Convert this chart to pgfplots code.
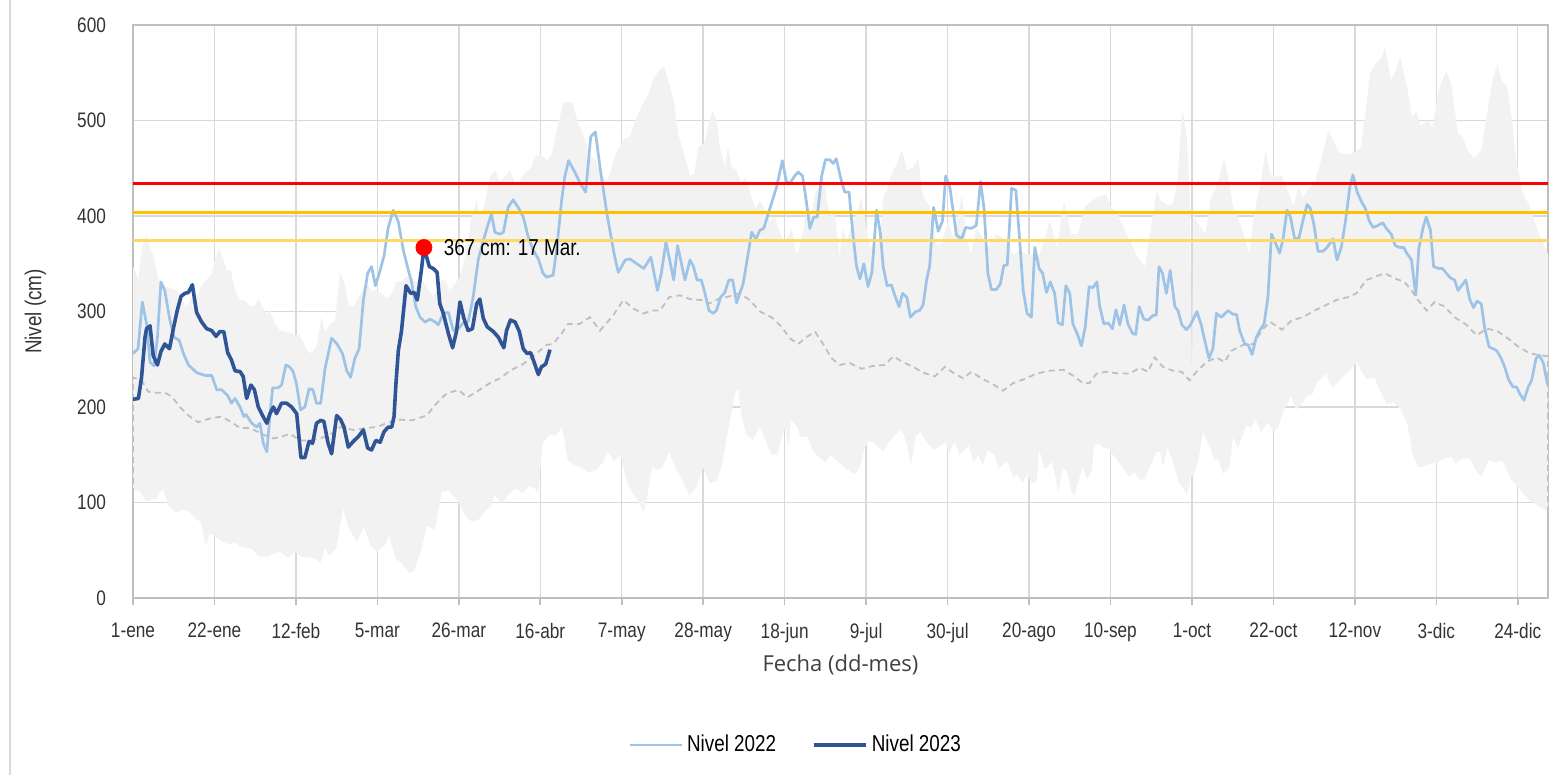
\documentclass[border=0pt]{standalone}
\usepackage{fontspec}
\setmainfont[FakeStretch=0.82]{Liberation Sans}
\newfontfamily\xlabfont{Open Sans}
\usepackage{pgfplots}
\usepgfplotslibrary{fillbetween}
\pgfplotsset{compat=1.18}
\definecolor{cA}{HTML}{9DC3E6}
\definecolor{cB}{HTML}{2F5597}
\definecolor{band}{HTML}{F2F2F2}
\definecolor{meanc}{HTML}{BFBFBF}
\definecolor{gold}{HTML}{FFC000}
\definecolor{lgold}{HTML}{FFD966}
\definecolor{gridc}{HTML}{D9D9D9}
\definecolor{framec}{HTML}{BFBFBF}
\begin{document}
\begin{tikzpicture}
\begin{axis}[
  at={(0,0)}, anchor=south west,
  scale only axis, width=707.5pt, height=286.5pt,
  xmin=0, xmax=364.8, ymin=0, ymax=600,
  xtick={0,21,...,357},
  xticklabels={1-ene,22-ene,12-feb,5-mar,26-mar,16-abr,7-may,28-may,18-jun,9-jul,30-jul,20-ago,10-sep,1-oct,22-oct,12-nov,3-dic,24-dic},
  ytick={0,100,...,600},
  grid=major, major grid style={gridc, line width=0.7pt},
  axis line style={framec, line width=0.8pt},
  tick align=outside, xtick pos=bottom, ytick pos=left,
  xtick style={framec, line width=0.8pt}, ytick style={draw=none},
  major tick length=3.5pt,
  /pgf/number format/assume math mode=true,
  tick label style={font=\fontsize{10.5}{12}\selectfont, text=black!80},
  xticklabel style={yshift=-5.5pt},
  yticklabel style={xshift=-6.5pt},
  xlabel={\xlabfont Fecha (dd-mes)},
  xlabel style={font=\fontsize{11}{13}\selectfont, text=black!75, at={(axis description cs:0.5,-0.117)}, anchor=center},
  ylabel={Nivel (cm)},
  ylabel style={font=\fontsize{11.5}{13}\selectfont, text=black!80, at={(axis description cs:-0.069,0.5)}, anchor=center},
  legend style={at={(axis description cs:0.469,-0.2565)}, anchor=center, draw=none, fill=none,
    legend columns=2, font=\fontsize{11.5}{13}\selectfont,
    /tikz/every even column/.append style={column sep=16pt}},
  legend image code/.code={\draw[#1] (0pt,0pt) -- (26pt,0pt);},
]
% band upper (max)
\addplot[name path=up, draw=none, forget plot] coordinates {
(0,347)(1.4,334)(2.2,364)(3.4,381)(4.4,367)(5.4,357)(6.5,334)(7.8,327)(9.1,325)(11.3,322)(12.6,312)(13.8,305)(15.1,315)(16.5,315)(17.7,327)(20.3,340)(21.1,354)(22.2,366)(23.3,355)(24.1,343)(25.2,343)(26.3,322)(27.6,312)(28.9,312)(30.2,305)(31.5,307)(32.5,313)(33.3,305)(34.5,298)(35.3,301)(36.6,287)(37.9,280)(39.2,279)(40.5,278)(41.8,275)(42.8,276)(43.9,268)(44.9,259)(46,256)(47.3,263)(48.6,294)(49.5,279)(50.8,287)(52.1,291)(53.4,341)(54.6,329)(55.5,308)(56.8,305)(58.1,315)(59.4,322)(60.2,330)(61.5,322)(62.8,322)(64.1,319)(65.4,314)(66.6,318)(67.9,331)(69.2,331)(70.4,336)(71.8,336)(73,331)(74.4,333)(75.7,326)(77.4,315)(79.1,331)(80.4,334)(81.7,322)(83,329)(84.3,336)(85.6,357)(86.4,374)(87.3,399)(88.6,416)(89.4,399)(90.7,413)(92,441)(93.3,448)(94.6,436)(95.9,441)(97.2,448)(98.9,430)(100.6,443)(101.9,448)(102.7,451)(103.6,462)(105,465)(106.8,458)(108,465)(109.5,495)(111,519)(113.3,519)(114.5,500)(116.3,483)(117.4,465)(119.3,458)(121,441)(122.3,437)(124.6,466)(126.4,480)(128.1,483)(129.9,504)(131.2,516)(132.9,528)(134,542)(135.8,554)(137,556)(138.2,539)(139.4,521)(140.5,486)(141.8,469)(143.6,442)(144.7,444)(145.7,472)(147.4,477)(148.7,503)(149.6,510)(150.6,496)(151.3,472)(152.6,451)(153.4,473)(154.3,451)(155.6,448)(156.9,434)(157.9,441)(159.2,423)(160.5,408)(161.6,416)(162.9,406)(164.2,395)(165.5,399)(166.3,388)(167.7,373)(168.9,378)(169.8,388)(171,360)(172,369)(173.2,395)(174.2,409)(175,402)(175.8,423)(176.7,430)(177.9,441)(179.6,399)(180.9,404)(182.2,357)(183,388)(183.9,374)(185.1,388)(186.5,402)(187.8,420)(189.1,388)(190,367)(191.3,369)(192.6,374)(193.4,420)(194.4,427)(195.5,444)(197,455)(198.2,469)(199.7,448)(201.2,451)(202.4,460)(203.6,422)(205.4,410)(207.2,369)(208.4,371)(210.2,395)(211.3,378)(212.5,395)(213.7,423)(214.9,374)(216.1,360)(217.3,387)(218.5,381)(220.3,367)(222.7,381)(225.1,374)(226.9,360)(228.7,364)(230.5,360)(231.7,359)(233.4,357)(235.2,378)(236.4,395)(238.2,367)(240,416)(241.8,381)(243.6,381)(245.4,410)(247.2,416)(249,420)(250.8,423)(252,410)(253.8,402)(256.2,381)(258.6,360)(260.9,347)(262.7,395)(263.9,426)(265.1,416)(266.9,411)(268.1,413)(269.3,437)(270.5,512)(271.7,483)(272.5,414)(273,226)(273.4,405)(274.1,395)(275.3,388)(276.5,381)(277.7,416)(279.5,432)(281.3,461)(282.4,439)(283.6,410)(284.8,399)(286.6,378)(287.8,360)(289,402)(290.8,437)(292,469)(293.2,444)(294.4,441)(296.2,442)(297.4,430)(299.2,410)(300.4,430)(301.6,420)(302.8,427)(304.6,434)(306.3,458)(308.1,489)(309.3,480)(310.5,469)(311.7,465)(313.5,465)(315.3,467)(316.5,472)(317.7,507)(318.9,549)(320.1,558)(321.9,566)(322.8,577)(324.3,542)(325.5,552)(326.7,566)(328.5,535)(329.7,504)(330.9,509)(332,495)(333.8,500)(335,493)(336.8,535)(338.6,552)(339.8,539)(341.6,486)(342.8,483)(344,469)(345.8,460)(347.6,469)(348.8,500)(350.6,545)(351.8,559)(353,540)(354.2,537)(355.4,504)(356.6,458)(358.4,423)(360.1,410)(361.3,395)(362.5,381)(364.8,360)
};
% band lower (min)
\addplot[name path=lo, draw=none, forget plot] coordinates {
(0,113)(1.8,112)(3.3,101)(4.6,103)(6,104)(7.7,115)(9.2,96)(11,89)(12.8,93)(14.6,90)(16.3,82)(17.5,80)(18.7,55)(19.9,68)(22.2,61)(24.6,56)(26.4,58)(28.1,53)(30.5,52)(32.3,44)(34.7,43)(37.6,49)(40,42)(41.8,48)(43.5,43)(46.5,42)(48.3,37)(49.5,52)(50.6,44)(52.4,52)(54.2,94)(55.4,75)(57.7,59)(59.5,75)(61.3,54)(63.1,49)(64.9,55)(66,66)(67.8,40)(69,38)(71.3,26)(72.5,29)(74.3,50)(75.8,76)(77.8,71)(79.6,111)(81.4,113)(83.8,101)(85.5,87)(87.3,80)(89.1,82)(90.9,92)(92.4,96)(93.2,108)(95,99)(96.8,108)(98.6,115)(100.4,110)(102.1,117)(103.3,116)(104.5,110)(105.6,162)(107.4,171)(109,170)(110.6,179)(112.1,144)(113.9,139)(115.7,136)(117.5,131)(119.3,134)(121,141)(122.4,153)(124,143)(125.7,150)(127.2,123)(128.2,114)(129.9,103)(131.7,90)(132.3,99)(133.8,137)(135,134)(136.4,136)(138.2,153)(139.9,136)(141.7,123)(143.5,108)(145.3,116)(147,137)(148.8,120)(150.6,123)(151.8,139)(153.6,179)(155.3,216)(156,218)(156.9,190)(158,172)(159.8,165)(161.6,179)(163.4,162)(164.6,150)(166.2,150)(167,165)(168.2,179)(169,158)(169.6,186)(171.3,179)(172,169)(173.8,169)(175.5,153)(177.2,146)(178.6,142)(179.7,150)(181.5,144)(183.3,137)(185.1,132)(186.3,130)(187.4,137)(188.6,157)(189.8,165)(191.6,160)(193.4,153)(194.6,162)(196.4,171)(198.2,176)(199.4,162)(200.6,139)(201.8,169)(203,174)(204.8,162)(206.6,155)(208.4,160)(209.3,164)(210.5,151)(211.7,164)(213.1,150)(214.3,155)(215.5,160)(216.7,141)(217.9,150)(219.1,139)(220.3,155)(222.1,150)(223.3,136)(225.3,143)(226.9,127)(228.1,129)(229.3,120)(230.5,129)(231.7,120)(232.9,122)(233.7,155)(234.9,136)(235.8,137)(236.8,143)(237.6,132)(238.5,110)(239.7,136)(240.9,132)(241.8,112)(242.7,107)(243.6,120)(244.8,137)(246,124)(247.2,134)(247.8,160)(249,162)(250.2,157)(251.4,157)(252.6,150)(253.8,144)(255,137)(256.8,127)(258.3,132)(259.5,124)(260.7,124)(262.1,137)(263.9,153)(264.8,153)(265.5,137)(266.7,158)(268.1,143)(269.5,122)(270.5,117)(271.7,107)(272.7,126)(273.5,129)(274.7,146)(275.9,174)(277.1,162)(277.9,155)(278.9,144)(279.8,146)(281,130)(282.2,134)(282.7,137)(283.6,169)(284.8,157)(286,169)(287,181)(288.2,178)(289.4,187)(290.8,174)(292.6,184)(293.8,176)(295,177)(296.6,195)(298.6,212)(299.8,197)(301.3,203)(302.8,212)(304,213)(305.2,226)(306.4,230)(307.6,235)(308.4,225)(309.4,220)(311,228)(312.5,234)(314,240)(315.6,247)(316.8,236)(318.1,229)(320,231)(321.2,220)(323.1,203)(325,205)(326.7,198)(328.5,183)(330,148)(331.4,137)(332.6,137)(334.4,141)(336.2,142)(338,146)(339.8,148)(341,141)(342.8,146)(344.6,146)(346.4,132)(347.6,127)(349.4,144)(351.2,142)(353,144)(355.3,124)(357.7,113)(359.5,104)(361.9,97)(364.8,90)
};
\addplot[fill=band, draw=none, forget plot] fill between[of=up and lo];
% mean
\addplot[meanc, line width=0.9pt, dash pattern=on 3pt off 2.2pt, forget plot] coordinates {
(0,0)(0,231)(2.2,228)(3.9,216)(5.7,215)(8.2,215)(10,211)(12.1,200)(14.3,191)(16.8,184)(19.8,188)(22.9,190)(25.4,184)(27.6,178)(30.2,178)(33.6,171)(36.2,167)(38.3,169)(40.5,172)(43,165)(45.6,165)(48.2,167)(50.8,171)(53.4,179)(56.8,176)(60.2,178)(62.8,179)(65.4,183)(68,187)(71.8,186)(75.7,191)(78.3,204)(80.8,214)(83.9,218)(86.2,210)(88.6,216)(92,225)(94.6,230)(97.2,238)(100.6,245)(104,256)(106.6,265)(108.3,266)(110.5,277)(112.2,287)(115.2,287)(117.8,294)(120.4,280)(123.8,296)(126.4,312)(129,303)(131.5,298)(134.1,301)(135.9,301)(138.2,315)(141,317)(143.6,313)(146.6,312)(148.3,308)(150.9,313)(153.9,316)(156.4,319)(159,312)(161.6,300)(164.6,294)(167.2,284)(169.3,272)(171.5,266)(173.6,273)(175.8,279)(177.9,266)(180.1,251)(182.2,244)(184.8,246)(187.8,240)(190.8,243)(193.8,244)(196,253)(198.5,247)(201.1,242)(203.7,236)(206.7,232)(209.3,242)(211.4,236)(214,230)(216.2,237)(218.7,230)(221.7,224)(224.3,217)(226.9,225)(230.3,230)(232.9,235)(236.3,238)(239.8,239)(242.3,233)(244.9,225)(246.6,225)(248.4,235)(251,237)(254,235)(257,235)(259.5,241)(261.7,237)(263.4,252)(265.5,242)(268.1,238)(270.3,237)(272.4,228)(274.2,237)(276.7,247)(279.3,252)(281.4,247)(283.2,259)(286.2,265)(288.8,266)(291.4,282)(293.2,289)(296.2,281)(298.8,291)(301.6,294)(304.6,301)(307.7,307)(310.2,312)(313.2,315)(315.4,319)(318,333)(320.6,337)(322.7,340)(325.7,334)(327.8,331)(329.6,322)(331.3,312)(333.5,301)(335.6,310)(338.2,305)(340.7,294)(343.8,286)(346.4,275)(348.9,282)(351.5,280)(354.1,273)(357.2,263)(360.2,256)(363.3,254)(364.8,253)(364.8,0)
};
% Nivel 2022
\addplot[cA, line width=1.35pt, line join=round] coordinates {
(0,256)(1.3,261)(2.4,310)(3.5,287)(4.4,247)(5.4,243)(6.3,273)(7.2,331)(8.2,322)(9.5,291)(10.6,273)(11.9,270)(13,256)(14.3,244)(16.4,236)(18.6,233)(20.3,233)(21.6,218)(22.9,218)(24.4,212)(25.4,204)(26.3,209)(27.6,200)(28.6,190)(29.2,192)(30.6,183)(31.9,179)(32.7,183)(33.6,162)(34.5,153)(35.5,200)(36,220)(37.4,220)(38.3,223)(39.4,244)(40.4,242)(41.3,237)(42.1,225)(43.2,197)(44.3,200)(45.4,219)(46.4,218)(47.3,204)(48.4,204)(49.5,240)(51.2,272)(52.6,266)(54,256)(55.1,238)(56.1,231)(57.2,251)(58.3,261)(59.4,312)(60.5,340)(61.5,347)(62.5,327)(63.7,343)(64.7,358)(65.8,388)(67.1,406)(68.4,394)(69.7,364)(71,343)(71.8,331)(72.9,305)(74,294)(75.3,289)(76.6,292)(77.9,289)(78.7,286)(80,298)(81.3,299)(82.6,280)(83.9,282)(85.1,288)(86.4,289)(87.7,315)(89,354)(90.3,374)(91.6,392)(92.4,402)(93.3,383)(94.6,381)(95.5,383)(96.7,409)(98,417)(99.3,409)(100.6,399)(101.9,378)(103.2,364)(104.5,355)(105.7,340)(106.6,336)(108.3,338)(109.2,364)(110.5,416)(111.3,441)(112.3,458)(113.9,446)(115.2,435)(116.7,425)(118,483)(119.2,488)(120.4,451)(122.2,402)(124,361)(125.1,341)(126.9,354)(128.1,355)(129.9,350)(131.7,345)(133.5,357)(135.2,322)(136.2,340)(137.4,373)(139.4,333)(140.4,369)(142.3,333)(143.6,354)(144.5,347)(145.4,333)(146.5,333)(147.4,320)(148.5,301)(149.6,298)(150.4,301)(151.5,315)(152.6,320)(153.6,333)(154.6,333)(155.6,309)(157.3,329)(159.5,383)(160.6,376)(161.6,385)(162.6,387)(164.2,408)(165.9,430)(167.4,458)(168.5,435)(169.5,435)(170.6,442)(171.5,446)(172.6,442)(173.6,415)(174.5,387)(175.5,399)(176.4,399)(177.5,441)(178.5,459)(179.6,459)(180.5,455)(181.3,460)(182.6,437)(183.5,425)(184.6,425)(185.6,381)(186.5,348)(187.4,334)(188.4,350)(189.5,326)(190.5,341)(191.7,406)(192.7,381)(193.4,347)(194.4,327)(195.5,328)(196.4,317)(197.5,305)(198.4,319)(199.5,315)(200.4,294)(201.8,300)(202.8,301)(203.7,307)(204.6,333)(205.4,348)(206.4,409)(207.6,384)(208.7,395)(209.5,442)(210.6,430)(212.3,380)(213.6,376)(214.7,388)(216.1,387)(217.4,390)(218.5,436)(219.4,408)(220.4,340)(221.3,323)(222.6,323)(223.6,329)(224.5,348)(225.4,349)(226.5,429)(227.6,427)(228.6,374)(229.5,322)(230.5,298)(231.6,294)(232.5,367)(233.6,345)(234.5,340)(235.5,320)(236.5,331)(237.6,319)(238.5,288)(239.6,286)(240.5,327)(241.5,319)(242.3,287)(243.4,277)(244.5,264)(245.5,284)(246.5,326)(247.5,325)(248.5,331)(249.2,306)(250.3,287)(251.4,288)(252.5,282)(253.4,302)(254.4,286)(255.5,307)(256.5,287)(257.7,277)(258.5,276)(259.4,305)(260.6,292)(261.7,291)(263,296)(263.8,296)(264.5,347)(265.4,340)(266.4,319)(267.4,343)(268.6,305)(269.4,301)(270.4,286)(271.6,281)(272.6,286)(274.3,300)(275.4,286)(276.5,266)(277.4,251)(278.4,261)(279.3,298)(280.6,294)(282.3,301)(283.6,297)(284.5,297)(285.3,280)(286.6,266)(287.5,265)(288.5,255)(289.6,273)(290.6,281)(291.6,287)(292.6,315)(293.5,381)(294.6,371)(295.6,361)(296.5,376)(297.5,406)(298.4,399)(299.5,376)(300.6,377)(301.6,395)(302.7,412)(303.5,408)(304.4,392)(305.5,363)(306.8,363)(307.8,367)(309.4,376)(310.4,354)(311.5,367)(312.6,395)(313.7,430)(314.5,443)(315.6,425)(316.7,415)(317.7,408)(318.7,395)(319.7,388)(320.9,390)(322.2,393)(323.1,387)(324.4,381)(325.4,369)(326.6,367)(327.6,367)(328.4,361)(329.6,354)(330.7,317)(331.5,366)(332.6,388)(333.4,399)(334.5,385)(335.3,347)(336.7,345)(337.6,345)(338.6,340)(339.7,335)(340.7,333)(341.6,322)(343.6,333)(344.6,313)(345.6,304)(346.5,311)(347.6,308)(348.5,282)(349.6,263)(350.6,261)(351.6,259)(352.7,251)(353.6,242)(354.7,228)(355.8,221)(356.7,221)(357.5,214)(358.6,207)(359.7,221)(360.6,228)(361.7,251)(362.6,254)(363.6,246)(364.7,223)
};
\addlegendentry{Nivel 2022}
% thresholds
\addplot[lgold, line width=1.5pt, forget plot] coordinates {(0,374)(364.8,374)};
\addplot[gold, line width=1.5pt, forget plot] coordinates {(0,404)(364.8,404)};
\addplot[red, line width=1.6pt, forget plot] coordinates {(0,434)(364.8,434)};
% Nivel 2023
\addplot[cB, line width=1.8pt, line join=round] coordinates {
(0,208)(1.4,209)(2.2,231)(3.1,273)(3.5,282)(4.4,285)(5.2,254)(6.3,244)(7.2,258)(8.2,266)(9.4,261)(10.4,282)(11.4,301)(12.4,316)(13.4,319)(14.3,320)(15.3,328)(16.4,299)(17.7,289)(19,282)(20.3,280)(21.4,274)(22.4,279)(23.4,279)(24.4,257)(25.4,249)(26.3,238)(27.6,237)(28.4,232)(29.3,209)(30.4,223)(31.3,218)(32.3,200)(33.4,191)(34.5,183)(35.3,193)(36.2,200)(37,193)(38.3,204)(39.6,204)(40.9,200)(42.2,193)(43.3,147)(44.3,147)(45.4,164)(46.3,162)(47.3,183)(48.4,186)(49.2,185)(50.3,162)(51.2,151)(52.5,191)(53.5,187)(54.4,179)(55.5,158)(56.8,164)(58.1,169)(59.4,176)(60.5,157)(61.5,155)(62.6,165)(63.7,163)(64.7,174)(65.8,179)(66.7,179)(67.3,190)(67.8,225)(68.4,259)(69.2,279)(70.4,327)(71.6,319)(72.5,320)(73.3,312)(74.4,345)(75,367)(76.4,347)(77.4,345)(78.4,341)(79.1,308)(80,298)(81.3,277)(82.4,262)(83.4,279)(84.3,310)(85.3,293)(86.4,280)(87.5,282)(88.6,308)(89.4,313)(90.3,293)(91.3,284)(92.9,279)(94.2,273)(95.6,262)(96.3,280)(97.3,291)(98.5,289)(99.6,279)(100.6,261)(101.6,256)(102.5,257)(103.4,247)(104.5,234)(105.3,242)(106.4,245)(107.5,260)
};
\addlegendentry{Nivel 2023}
\addplot[only marks, mark=*, mark size=4pt, color=red, forget plot] coordinates {(75,367)};
\node[anchor=west, font=\fontsize{11.5}{13}\selectfont, inner sep=1pt] at (axis cs:79.5,367) {367 cm: 17 Mar.};
\end{axis}
\pgfresetboundingbox
\useasboundingbox (-66.5pt,-88.5pt) rectangle (712pt,299pt);
\draw[gridc, line width=0.6pt] (-61.5pt,-88.5pt) -- (-61.5pt,299pt);
\end{tikzpicture}
\end{document}
